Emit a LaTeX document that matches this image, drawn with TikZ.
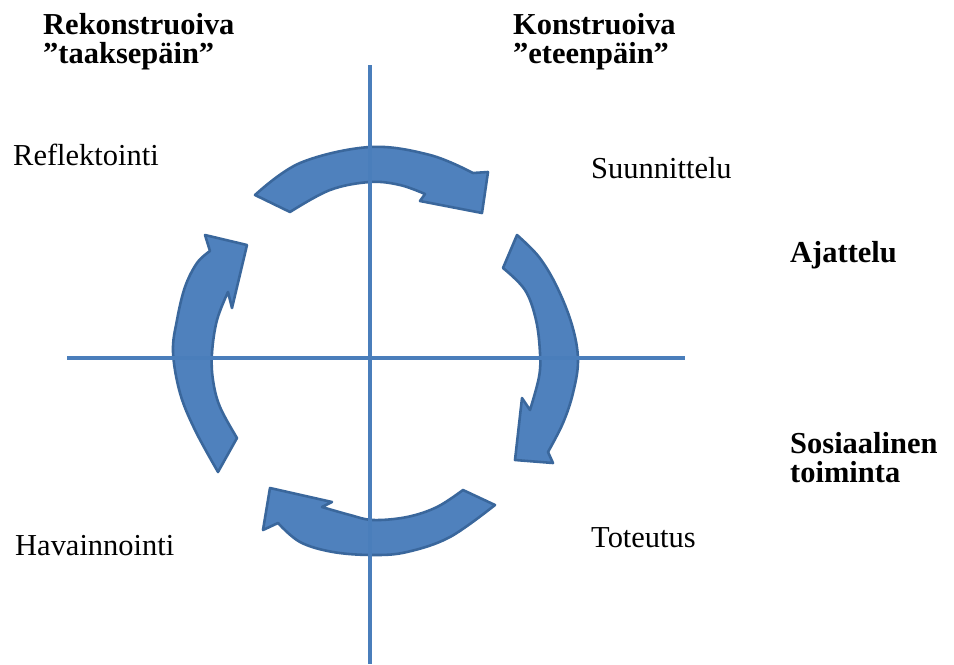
\documentclass[tikz,border=0pt]{standalone}
\usepackage{fontspec}
\setmainfont{Liberation Serif}
\usepackage{tikz}
\definecolor{axisblue}{HTML}{4A7EBB}
\definecolor{arrowfill}{HTML}{4F81BD}
\definecolor{arrowline}{HTML}{3A679C}

\begin{document}
\begin{tikzpicture}[x=0.03cm,y=-0.03cm]
 \tikzstyle{axisline} = [axisblue,line width=3.5pt]
 \tikzstyle{ringarrow} = [fill=arrowfill,draw=arrowline,line width=2.2pt,line join=round]
 \tikzstyle{txt} = [anchor=base west,inner sep=0,align=left,font=\fontsize{26}{24.7}\selectfont]
 \tikzstyle{btxt} = [txt,font=\fontsize{26}{24.7}\selectfont\bfseries]

  \fill[white] (0,0) rectangle (954,664);
  \useasboundingbox (0,0) rectangle (954,664);

  \coordinate (vtop) at (370,65);
  \coordinate (vbot) at (370,664);
  \coordinate (hleft) at (67,358);
  \coordinate (hright) at (685,358);

  % Arrows of the cycle
  \draw[ringarrow] plot[smooth,tension=0.6] coordinates {(255,195) (300,163) (370,147) (430,155) (473,173)}
    -- (488,172) -- (482,213) -- (420,201) -- (425,194)
    -- plot[smooth,tension=0.6] coordinates {(425,194) (400,185) (370,182) (330,190) (290,212)} -- cycle;
  \draw[ringarrow] plot[smooth,tension=0.6] coordinates {(517,235) (539,257) (557,287) (572,325) (578,360) (573,393) (563,423) (548,452)}
    -- (553,463) -- (515,460) -- (522,398) -- (530,410)
    -- plot[smooth,tension=0.6] coordinates {(530,410) (539,377) (540,353) (536,320) (525,290) (503,268)} -- cycle;
  \draw[ringarrow] plot[smooth,tension=0.6] coordinates {(495,505) (450,537) (407,552) (373,555) (333,552) (300,542) (278,523)}
    -- (263,530) -- (270,488) -- (332,502) -- (322,507)
    -- plot[smooth,tension=0.6] coordinates {(322,507) (350,515) (373,520) (407,517) (437,507) (463,490)} -- cycle;
  \draw[ringarrow] plot[smooth,tension=0.6] coordinates {(218,472) (195,430) (180,393) (173,352) (177,320) (185,287) (197,263) (210,251)}
    -- (205,235) -- (247,245) -- (232,308) -- (228,292)
    -- plot[smooth,tension=0.6] coordinates {(228,292) (217,320) (212,353) (213,380) (220,407) (237,438)} -- cycle;

  % Axes
  \draw[axisline] (vtop) -- (vbot);
  \draw[axisline] (hleft) -- (hright);

  % Texts
  \node[btxt] (rekon) at (43,63) {Rekonstruoiva\\”taaksepäin”};
  \node[btxt] (konst) at (513,63) {Konstruoiva\\”eteenpäin”};
  \node[txt] (refl) at (13,165) {Reflektointi};
  \node[txt] (suun) at (591,178) {Suunnittelu};
  \node[btxt] (ajat) at (790,262) {Ajattelu};
  \node[btxt] (sosi) at (790,482) {Sosiaalinen\\toiminta};
  \node[txt] (tote) at (591,547) {Toteutus};
  \node[txt] (hava) at (15,555) {Havainnointi};

\end{tikzpicture}
\end{document}
